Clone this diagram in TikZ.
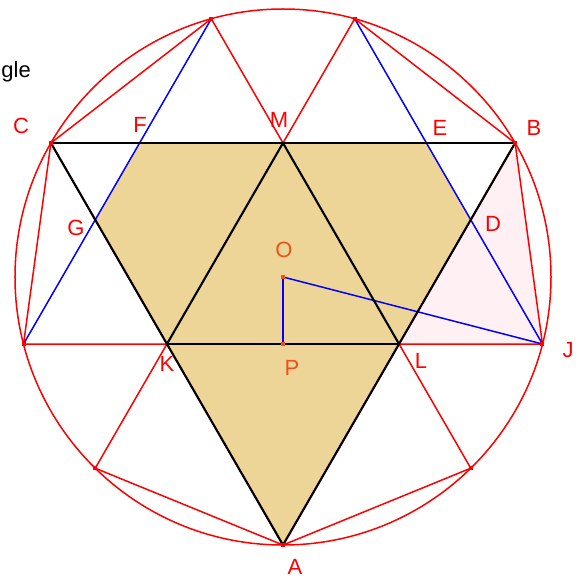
\documentclass[tikz,border=0pt]{standalone}
\usepackage{fontspec}
\setmainfont{Liberation Sans}
\usetikzlibrary{calc}
\definecolor{fillTan}{RGB}{237,213,152}
\definecolor{blush}{RGB}{255,240,243}
\definecolor{orng}{RGB}{240,80,25}
\tikzset{
  redline/.style={red,line width=1.5pt},
  blueline/.style={blue,line width=1.5pt},
  blackline/.style={black,line width=2.1pt,line cap=round},
  lbl/.style={text=red,font=\fontsize{22}{26}\selectfont,inner sep=0pt},
}
\begin{document}
\begin{tikzpicture}[x=1pt,y=1pt]
  \useasboundingbox (-283,-304) rectangle (300,277);
  % points on the circle
  \coordinate (A) at (-90:268);
  \coordinate (lr) at (-45.52:268);
  \coordinate (J) at (-14.48:268);
  \coordinate (B) at (30:268);
  \coordinate (t2) at (74.48:268);
  \coordinate (t1) at (105.52:268);
  \coordinate (C) at (150:268);
  \coordinate (w) at (194.48:268);
  \coordinate (ll) at (225.52:268);
  % midpoints, centre, foot and cuts
  \coordinate (M) at ($(B)!.5!(C)$);
  \coordinate (K) at ($(C)!.5!(A)$);
  \coordinate (L) at ($(A)!.5!(B)$);
  \coordinate (O) at (0,0);
  \coordinate (P) at (0,-67);
  \coordinate (F) at (-143.42,134);
  \coordinate (E) at (143.42,134);
  \coordinate (G) at (-187.76,57.22);
  \coordinate (D) at (187.76,57.22);

  \fill[fillTan] (F) -- (E) -- (D) -- (A) -- (G) -- cycle;
  \fill[blush] (B) -- (L) -- (J) -- cycle;

  \draw[redline] (O) circle[radius=268];
  \draw[redline] (C) -- (t1) -- (M) -- (t2) -- (B) -- (J) -- (L) -- (lr)
    -- (A) -- (ll) -- (K) -- (w) -- cycle;
  \foreach \from/\to in {K/L, A/B, B/C, C/A}
    \draw[redline] (\from) -- (\to);

  \foreach \from/\to in {w/t1, t2/J, O/P, O/J}
    \draw[blueline] (\from) -- (\to);

  \foreach \from/\to in {C/B, B/A, A/C, K/M, M/L, L/K}
    \draw[blackline] (\from) -- (\to);

  \foreach \p in {A, lr, J, B, t2, t1, C, w, ll}
    \fill[red] ($(\p)+(-2,-2)$) rectangle ++(4,4);
  \foreach \p in {O, P}
    \fill[orng] ($(\p)+(-2,-2)$) rectangle ++(4,4);

  \node[lbl] (lC) at (-262,151) {C};
  \node[lbl] (lF) at (-143,152) {F};
  \node[lbl] (lM) at (-4,157) {M};
  \node[lbl] (lE) at (157,149) {E};
  \node[lbl] (lB) at (251,149) {B};
  \node[lbl] (lD) at (210,53) {D};
  \node[lbl] (lG) at (-207,49) {G};
  \node[lbl,text=orng] (lO) at (1,27) {O};
  \node[lbl] (lK) at (-116,-87) {K};
  \node[lbl,text=orng] (lP) at (9,-91) {P};
  \node[lbl] (lL) at (138,-84) {L};
  \node[lbl] (lJ) at (285,-73) {J};
  \node[lbl] (lA) at (12,-290) {A};
  \node[lbl,text=black,anchor=base east] (title) at (-252,199) {gle};
\end{tikzpicture}
\end{document}
